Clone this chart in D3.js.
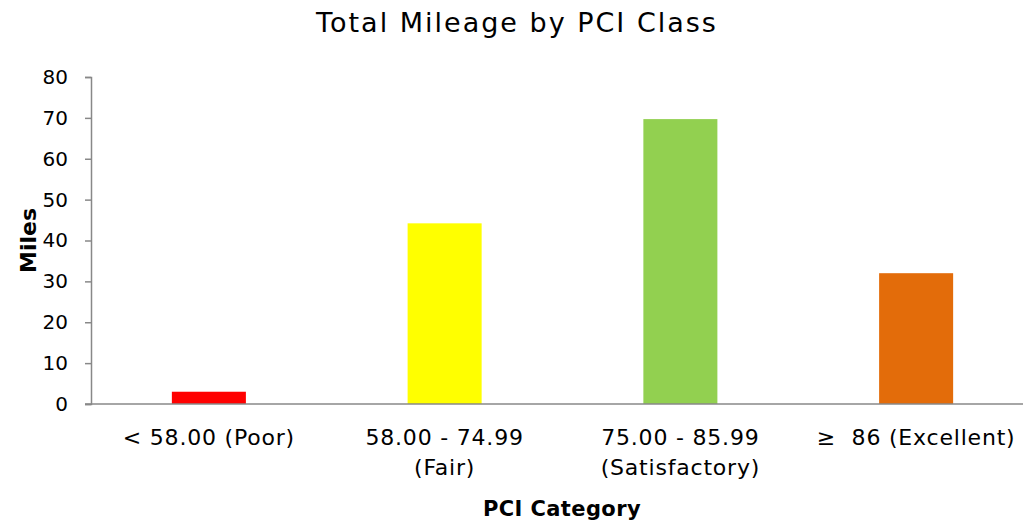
<!DOCTYPE html>
<html>
<head>
<meta charset="utf-8">
<script src="https://cdn.jsdelivr.net/npm/d3@7"></script>
<style>
  body { margin: 0; background: #fff; }
  text { font-family: "DejaVu Sans", sans-serif; fill: #000; white-space: pre; }
</style>
</head>
<body>
<div class="chart"></div>
<script>
// data
const categories = ["< 58.00 (Poor)", "58.00 - 74.99|(Fair)", "75.00 - 85.99|(Satisfactory)", "\u2265  86 (Excellent)"];
const miles = [3, 44.2, 69.7, 32];
const barColors = ["#ff0000", "#ffff00", "#92d050", "#e36c0a"];
const yTicks = [0, 10, 20, 30, 40, 50, 60, 70, 80];

const width = 1023;
const height = 525;
const plotLeft = 91, plotRight = 1034, plotTop = 77, plotBottom = 404;

const svg = d3.select(".chart").append("svg")
  .attr("width", width)
  .attr("height", height);

const xScale = d3.scaleBand()
  .domain(categories)
  .range([plotLeft, plotRight])
  .paddingInner(0.686)
  .paddingOuter(0.343);

const yScale = d3.scaleLinear()
  .domain([0, 80])
  .range([plotBottom, plotTop]);

svg.selectAll("rect.bar")
  .data(miles)
  .enter()
  .append("rect")
  .attr("class", "bar")
  .attr("x", (d, i) => xScale(categories[i]))
  .attr("y", d => yScale(d))
  .attr("width", xScale.bandwidth())
  .attr("height", d => yScale(0) - yScale(d))
  .attr("fill", (d, i) => barColors[i]);

// y axis
const yAxis = d3.axisLeft(yScale).tickValues(yTicks).tickSize(6).tickPadding(17);
const gy = svg.append("g")
  .attr("transform", "translate(" + plotLeft + ",0)")
  .call(yAxis);
gy.select(".domain").attr("stroke", "#888").attr("stroke-width", 1.5);
gy.selectAll(".tick line").attr("stroke", "#888").attr("stroke-width", 1.5);
gy.selectAll(".tick text")
  .style("font-family", "'DejaVu Sans', sans-serif")
  .style("font-size", "20px");

// x axis line (no ticks)
svg.append("line")
  .attr("x1", plotLeft - 6).attr("x2", width)
  .attr("y1", plotBottom).attr("y2", plotBottom)
  .attr("stroke", "#888").attr("stroke-width", 1.5);

// category labels (two lines where needed)
const labels = svg.selectAll("text.cat")
  .data(categories)
  .enter()
  .append("text")
  .attr("class", "cat")
  .attr("text-anchor", "middle")
  .attr("y", 445)
  .style("font-size", "22px")
  .style("letter-spacing", "0.8px");
labels.each(function(d) {
  const t = d3.select(this);
  d.split("|").forEach((p, i) => {
    t.append("tspan")
      .attr("x", xScale(d) + xScale.bandwidth() / 2)
      .attr("dy", i === 0 ? 0 : 30)
      .text(p);
  });
});

svg.append("text")
  .attr("x", 517)
  .attr("y", 32)
  .attr("text-anchor", "middle")
  .style("font-size", "27px")
  .style("letter-spacing", "2px")
  .text("Total Mileage by PCI Class");

svg.append("text")
  .attr("x", 562)
  .attr("y", 516)
  .attr("text-anchor", "middle")
  .style("font-size", "21px")
  .style("font-weight", "bold")
  .style("letter-spacing", "0.4px")
  .text("PCI Category");

svg.append("text")
  .attr("transform", "rotate(-90)")
  .attr("x", -(plotTop + plotBottom) / 2)
  .attr("y", 36)
  .attr("text-anchor", "middle")
  .style("font-size", "22px")
  .style("font-weight", "bold")
  .text("Miles");
</script>
</body>
</html>
